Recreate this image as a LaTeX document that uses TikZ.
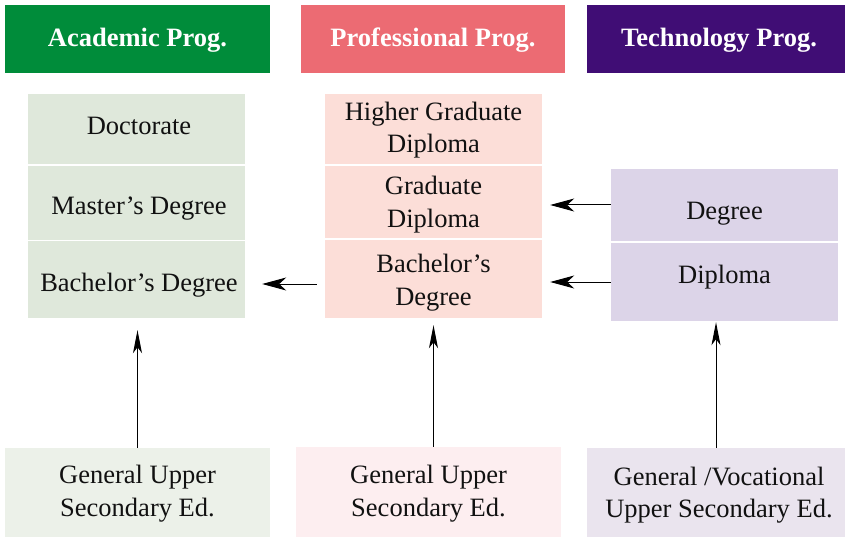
\documentclass[tikz,border=0pt]{standalone}
\usepackage{fontspec}
\setmainfont{Liberation Serif}
\usetikzlibrary{arrows.meta}
\definecolor{acH}{RGB}{0,140,58}
\definecolor{prH}{RGB}{236,107,115}
\definecolor{teH}{RGB}{64,13,117}
\definecolor{acC}{RGB}{223,232,219}
\definecolor{prC}{RGB}{252,222,216}
\definecolor{teC}{RGB}{220,212,232}
\definecolor{acB}{RGB}{236,241,233}
\definecolor{prB}{RGB}{253,238,240}
\definecolor{teB}{RGB}{234,228,238}
\definecolor{ink}{RGB}{17,17,17}
\tikzset{
  hdr/.style={inner sep=0pt, minimum height=68pt},
  hdrtxt/.style={inner sep=0pt, text=white, font=\fontsize{26.5}{32}\selectfont\bfseries},
  box/.style={inner sep=0pt},
  txt/.style={inner sep=0pt, align=center, text=ink, font=\fontsize{26.5}{32.5}\selectfont},
  harr/.style={draw=black, line width=1pt, -{Stealth[length=24pt,width=13pt,inset=7pt]}},
  varr/.style={draw=black, line width=1pt, -{Stealth[length=23pt,width=9pt,inset=6pt]}}
}
\begin{document}
\begin{tikzpicture}[x=1pt,y=-1pt]
\useasboundingbox (0,0) rectangle (845,537);
% headers
\node[hdr, fill=acH, minimum width=265pt] (ah) at (137.5,39) {};
\node[hdr, fill=prH, minimum width=264pt] (ph) at (433,39) {};
\node[hdr, fill=teH, minimum width=258pt] (th) at (716,39) {};
\node[hdrtxt] (aht) at (137.5,40.5) {Academic Prog.};
\node[hdrtxt] (pht) at (433,40.5) {Professional Prog.};
\node[hdrtxt] (tht) at (719,40.5) {Technology Prog.};
% academic column
\node[box, fill=acC, minimum width=217pt, minimum height=70pt] (a1) at (136.5,129) {};
\node[box, fill=acC, minimum width=217pt, minimum height=74pt] (a2) at (136.5,203) {};
\node[box, fill=acC, minimum width=217pt, minimum height=77pt] (a3) at (136.5,279.5) {};
\node[txt] (a1t) at (139,126) {Doctorate};
\node[txt] (a2t) at (139,209) {Master’s Degree};
\node[txt] (a3t) at (139,285.5) {Bachelor’s Degree};
% professional column
\node[box, fill=prC, minimum width=217pt, minimum height=70pt] (p1) at (433.5,129) {};
\node[box, fill=prC, minimum width=217pt, minimum height=72pt] (p2) at (433.5,202) {};
\node[box, fill=prC, minimum width=217pt, minimum height=78pt] (p3) at (433.5,279) {};
\node[txt] (p1t) at (433.5,130) {Higher Graduate\\Diploma};
\node[txt] (p2t) at (433.5,204.5) {Graduate\\Diploma};
\node[txt] (p3t) at (433.5,282.5) {Bachelor’s\\Degree};
% technology column
\node[box, fill=teC, minimum width=227pt, minimum height=72pt] (t1) at (724.5,205) {};
\node[box, fill=teC, minimum width=227pt, minimum height=78pt] (t2) at (724.5,282) {};
\node[txt] (t1t) at (724.5,214) {Degree};
\node[txt] (t2t) at (724.5,277) {Diploma};
% bottom boxes
\node[box, fill=acB, minimum width=265pt, minimum height=89pt] (ab) at (137.5,492.5) {};
\node[box, fill=prB, minimum width=265pt, minimum height=90pt] (pb) at (428.5,492) {};
\node[box, fill=teB, minimum width=258pt, minimum height=89pt] (tb) at (716,492.5) {};
\node[txt] (abt) at (137.5,493.5) {General Upper\\Secondary Ed.};
\node[txt] (pbt) at (428.5,493.5) {General Upper\\Secondary Ed.};
\node[txt] (tbt) at (719,495) {General /Vocational\\Upper Secondary Ed.};
% horizontal arrows
\draw[harr, shorten >=8pt] (t1.west) -- (t1.west -| p2.east);
\draw[harr, shorten >=8pt] (t2.west) -- (t2.west -| p3.east);
\draw[harr, shorten <=8pt, shorten >=17pt] ([yshift=-5pt]p3.west) -- ([yshift=-5pt]p3.west -| a3.east);
% vertical arrows
\draw[varr, shorten >=12pt] (ab.north) -- (ab.north |- a3.south);
\draw[varr, shorten >=7pt] (pb.north -| p3.south) -- (p3.south);
\draw[varr, shorten >=1pt] (tb.north) -- (tb.north |- t2.south);
\end{tikzpicture}
\end{document}
